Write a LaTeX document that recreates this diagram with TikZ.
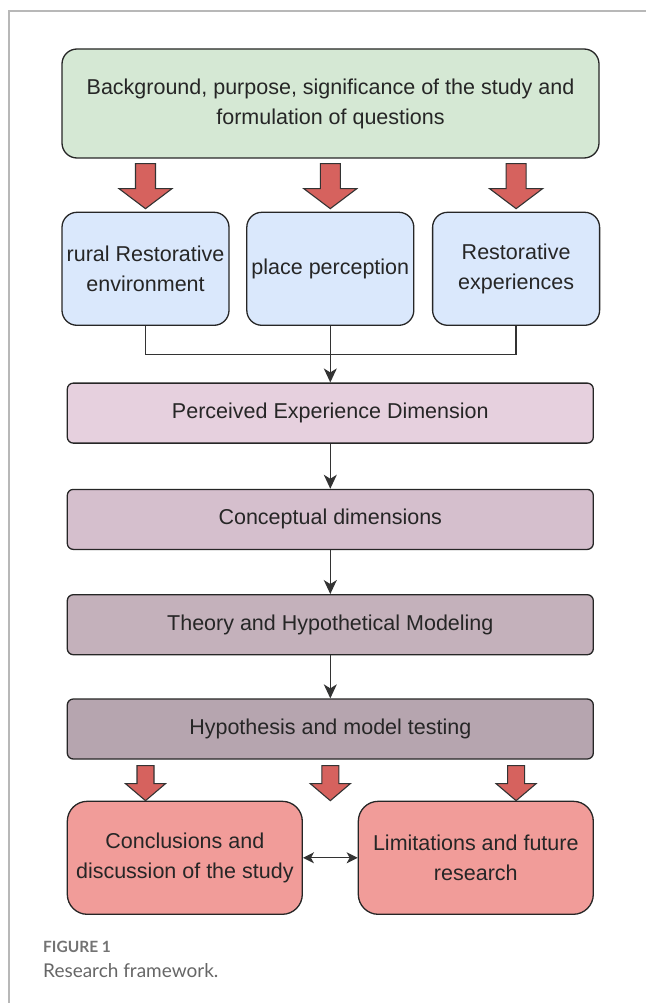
\documentclass[tikz,border=0pt]{standalone}
\usepackage{fontspec}
\setmainfont{Liberation Sans}
\newfontfamily\capfont{Lato}
\usetikzlibrary{arrows.meta,positioning,calc}

\definecolor{bggreen}{HTML}{D5E8D4}
\definecolor{bgblue}{HTML}{DAE8FC}
\definecolor{pinkA}{HTML}{E6D0DE}
\definecolor{pinkB}{HTML}{D5BFCD}
\definecolor{pinkC}{HTML}{C4B1BB}
\definecolor{pinkD}{HTML}{B6A5AF}
\definecolor{salmon}{HTML}{F19C99}
\definecolor{arrowred}{HTML}{D6625E}

% vertical block arrow: from, to, shaft half-width, head half-width, head length
\newcommand{\blockarrow}[5]{%
  \filldraw[fatarrow] let \p1=#1, \p2=#2 in
    (\x1-#3,\y1) -- (\x1+#3,\y1) -- (\x1+#3,\y2+#5) -- (\x1+#4,\y2+#5)
    -- (\x1,\y2) -- (\x1-#4,\y2+#5) -- (\x1-#3,\y2+#5) -- cycle;}

\begin{document}
\begin{tikzpicture}[
  x=1pt, y=-1pt,
  font=\fontsize{21.5}{30}\selectfont,
  box/.style={draw=black!85, line width=1.3pt, align=center, inner sep=2pt,
    text=black!85},
  topbox/.style={box, rounded corners=15pt, fill=bggreen,
    minimum width=537pt, minimum height=109pt},
  bluebox/.style={box, rounded corners=15pt, fill=bgblue,
    minimum width=167pt, minimum height=113pt},
  stage/.style={box, rounded corners=6pt, minimum width=526pt,
    minimum height=60pt},
  endbox/.style={box, rounded corners=20pt, fill=salmon,
    minimum width=235pt, minimum height=113pt},
  fatarrow/.style={draw=black!80, line width=1.1pt, fill=arrowred,
    line join=miter},
  line/.style={draw=black!80, line width=1.3pt},
  arr/.style={line, -{Stealth[length=14pt, width=13pt, inset=4pt]}},
  dblarr/.style={line, {Stealth[length=11pt, width=11pt, inset=3pt]}-{Stealth[length=11pt, width=11pt, inset=3pt]}},
  frameline/.style={draw=black!28, line width=1.5pt},
  caphead/.style={font=\capfont\bfseries\fontsize{15.5}{18}\selectfont, text=black!55},
  captext/.style={font=\capfont\fontsize{19}{22}\selectfont, text=black!60}
]
\useasboundingbox (0,0) rectangle (646,1003);

% frame
\draw[frameline] (9,1003) -- (9,11) -- (646,11);

% top: study background
\node[topbox] (top) at (330.5,103.5)
  {Background, purpose, significance of the study and\\formulation of questions};

% three research streams
\node[bluebox, below=53pt of top.south west, anchor=north west] (rre)
  {rural Restorative\\environment};
\node[bluebox, right=16.5pt of rre] (pp) {place perception};
\node[bluebox, right=17.5pt of pp] (rex) {Restorative\\experiences};

\blockarrow{($(rre.north |- top.south)+(0,5)$)}{($(rre.north)+(0,-3)$)}{10pt}{26.5pt}{20pt}
\blockarrow{($(pp.north |- top.south)+(0,5)$)}{($(pp.north)+(0,-3)$)}{10pt}{26.5pt}{20pt}
\blockarrow{($(rex.north |- top.south)+(0,5)$)}{($(rex.north)+(0,-3)$)}{10pt}{26.5pt}{20pt}

% stages
\node[stage, fill=pinkA, below=56.5pt of pp] (ped) {Perceived Experience Dimension};
\node[stage, fill=pinkB, below=45pt of ped] (cd) {Conceptual dimensions};
\node[stage, fill=pinkC, below=44pt of cd] (thm) {Theory and Hypothetical Modeling};
\node[stage, fill=pinkD, below=43pt of thm] (hmt) {Hypothesis and model testing};

\coordinate (jn) at ($(pp.south)!0.5!(ped.north)$);
\draw[line] (rre.south) |- (jn) -| (rex.south);
\draw[arr] (pp.south) -- (ped.north);
\draw[arr] (ped) -- (cd);
\draw[arr] (cd) -- (thm);
\draw[arr] (thm) -- (hmt);

% outcomes
\node[endbox, below=41pt of hmt.south west, anchor=north west] (cds)
  {Conclusions and\\discussion of the study};
\node[endbox, below=41pt of hmt.south east, anchor=north east] (lfr)
  {Limitations and future\\research};

\blockarrow{($(hmt.south -| rre.north)+(0,6)$)}{(rre.north |- cds.north)}{8.5pt}{20pt}{17pt}
\blockarrow{($(hmt.south -| pp.north)+(0,6)$)}{($(pp.north |- cds.north)+(3,0)$)}{8.5pt}{20pt}{17pt}
\blockarrow{($(hmt.south -| rex.north)+(0,6)$)}{($(rex.north |- lfr.north)+(2,0)$)}{8.5pt}{20pt}{17pt}

\draw[dblarr] (cds) -- (lfr);

% caption
\node[caphead, anchor=base west, inner sep=0] (fig) at (43,952) {FIGURE 1};
\node[captext, anchor=base west, inner sep=0] (cap) at (43,977) {Research framework.};

\end{tikzpicture}
\end{document}
